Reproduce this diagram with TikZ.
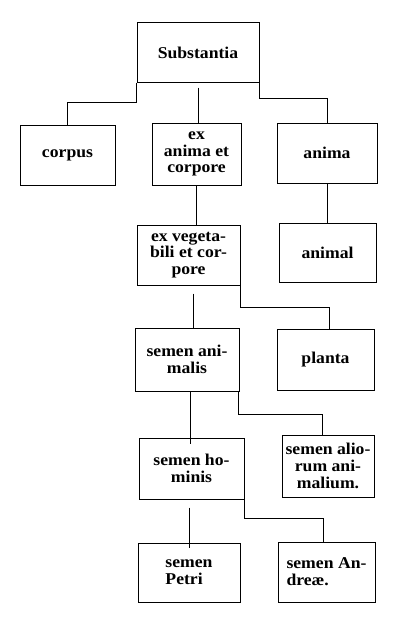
\documentclass[tikz,border=0pt]{standalone}
\usepackage{fontspec}
\setmainfont{Liberation Serif}[FakeStretch=1.07]
\begin{document}
\begin{tikzpicture}[x=1pt,y=1pt,
  box/.style={draw, line width=1pt, inner sep=2pt, align=center,
    font=\fontsize{16.5}{16.7}\selectfont\bfseries},
  link/.style={line width=0.9pt}]
\useasboundingbox (0,0) rectangle (406,-626);
\node[box, minimum width=122pt, minimum height=59pt] (sub) at (198,-52.5) {Substantia};
\node[box, minimum width=95pt, minimum height=60pt] (corpus) at (67.5,-155) {corpus};
\node[box, minimum width=89pt, minimum height=62pt] (exan) at (196.5,-154) {ex\\anima et\\corpore};
\node[box, minimum width=100pt, minimum height=60pt] (anima) at (327,-153) {anima};
\node[box, minimum width=103pt, minimum height=60pt] (exveg) at (188.5,-255) {ex vegeta-\\bili et cor-\\pore};
\node[box, minimum width=97pt, minimum height=59pt] (animal) at (327.5,-252.5) {animal};
\node[box, minimum width=104pt, minimum height=63pt] (semanim) at (187,-359.5) {semen ani-\\malis};
\node[box, minimum width=97pt, minimum height=61pt] (planta) at (325.5,-359.5) {planta};
\node[box, minimum width=105pt, minimum height=61pt] (semhom) at (191.5,-468.5) {semen ho-\\minis};
\node[box, minimum width=92pt, minimum height=62pt, inner sep=1pt] (semali) at (328,-466) {semen alio-\\rum ani-\\malium.};
\node[box, minimum width=102pt, minimum height=59pt, align=left] (petri) at (189,-572.5) {semen\\Petri};
\node[box, minimum width=97pt, minimum height=60pt, align=left] (andr) at (326.5,-572) {semen An-\\dreæ.};
% connectors
\draw[link] (sub.south west) -- ++(0,-20) -| (corpus.north);
\draw[link] (sub.south east) -- ++(0,-16) -| (anima.north);
\draw[link] ([yshift=-5pt]sub.south) -- (sub.south |- exan.north);
\draw[link] (exan.south) -- (exan.south |- exveg.north);
\draw[link] (anima.south) -- (anima.south |- animal.north);
\draw[link] (exveg.south east) -- ++(0,-22) -| ([xshift=3.5pt]planta.north);
\draw[link] ([xshift=4.5pt,yshift=-8pt]exveg.south) -- ([xshift=4.5pt]exveg.south |- semanim.north);
\draw[link] ([xshift=-1.5pt]semanim.south east) -- ++(0,-23) -| ([xshift=-6pt]semali.north);
\draw[link] ([xshift=3pt]semanim.south) -- ([xshift=3pt,yshift=-6pt]semanim.south |- semhom.north);
\draw[link] (semhom.south east) -- ++(0,-19) -| ([xshift=-3.5pt]andr.north);
\draw[link] ([xshift=-2.5pt,yshift=-8pt]semhom.south) -- ([xshift=-2.5pt,yshift=-5pt]semhom.south |- petri.north);
\end{tikzpicture}
\end{document}
